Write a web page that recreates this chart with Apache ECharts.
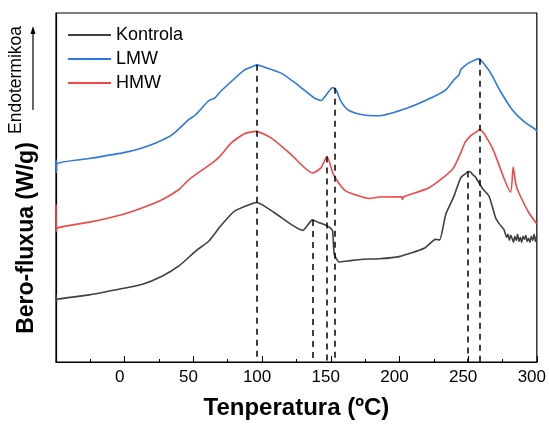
<!DOCTYPE html>
<html>
<head>
<meta charset="utf-8">
<script src="https://cdn.jsdelivr.net/npm/echarts@6/dist/echarts.min.js"></script>
<style>html,body{margin:0;padding:0;background:#fff}#c{width:549px;height:425px}</style>
</head>
<body>
<div id="c"></div>
<script>
// Temperatures (ºC) and heat flux (arbitrary, stacked offsets)
var tempKontrola = [-50, -49.7, -49.2, -25.8, -1.6, 13.0, 27.5, 39.5, 51.7, 61.3, 69.8, 80.0, 94.5, 96.0, 109.0, 121.2, 129.6, 136.8, 141.0, 146.6, 150.2, 151.4, 152.6, 156.2, 162.3, 173.2, 185.3, 199.8, 218.0, 226.4, 229.2, 233.7, 239.7, 244.6, 248.2, 250.0, 251.9, 253.2, 255.0, 257.9, 261.0, 265.2, 270.0, 273.0, 276.0,
  277, 278, 279, 280, 281, 282, 283, 284, 285, 286, 287, 288, 289, 290, 291, 292, 293, 294, 295, 296, 297, 298, 299, 300];
var fluxKontrola = [6.8, 6.15, 6.3, 6.73, 7.37, 7.8, 8.63, 9.63, 11.13, 12.13, 13.63, 15.13, 15.97, 16.0, 14.97, 13.8, 13.2, 14.25, 14.0, 13.7, 13.37, 13.1, 10.8, 10.03, 10.13, 10.3, 10.35, 10.57, 11.4, 12.3, 12.25, 14.8, 16.63, 18.47, 18.9, 19.1, 19.05, 18.8, 18.6, 17.97, 17.3, 16.63, 14.47, 13.8, 13.3,
  12.9, 12.5, 12.8, 12.2, 12.7, 12.4, 12.0, 12.6, 12.2, 12.8, 12.1, 12.5, 12.0, 12.6, 12.3, 12.7, 12.1, 12.4, 12.0, 12.6, 12.2, 12.8, 12.1, 12.7];

var tempLMW = [-50, -49.7, -49.2, -26.0, -1.6, 10.3, 22.6, 34.7, 46.6, 51.7, 61.1, 65.5, 69.8, 77.6, 87.2, 94.5, 96.0, 101.8, 113.9, 125.9, 138.1, 142.9, 147.7, 151.4, 153.8, 157.5, 162.3, 169.5, 180.4, 185.3, 205.8, 222.8, 233.7, 239.7, 243.4, 244.6, 249.4, 253.5, 257.2, 258.6, 261.5, 266.4, 273.6, 282.1, 290.6, 299.1, 300];
var fluxLMW = [20.3, 19.0, 19.9, 20.4, 20.97, 21.37, 21.97, 22.8, 24.3, 24.8, 26.2, 26.47, 27.13, 28.13, 29.3, 29.7, 29.8, 29.57, 28.97, 27.8, 26.47, 26.23, 26.97, 27.53, 27.3, 26.13, 25.3, 24.9, 24.7, 24.7, 25.47, 26.47, 27.3, 28.3, 28.8, 29.3, 29.9, 30.2, 30.4, 30.35, 29.9, 28.97, 27.13, 25.3, 24.13, 23.3, 23.1];

var tempHMW = [-50, -49.7, -49.2, -25.8, -1.6, 13.0, 27.5, 39.5, 46.8, 63.8, 69.8, 77.6, 87.2, 95.7, 106.6, 121.2, 136.8, 142.9, 147.3, 151.4, 152.6, 157.5, 161.1, 167.1, 178.0, 185.3, 201.5, 202.2, 203.0, 221.6, 238.5, 244.6, 247.7, 251.9, 255.0, 258.6, 267.6, 280.9, 282.8, 284.8, 286.9, 294.2, 299.8];
var fluxHMW = [15.8, 13.1, 13.45, 14.03, 14.8, 15.47, 16.3, 17.3, 18.3, 19.97, 20.7, 21.97, 22.9, 23.13, 22.47, 20.8, 18.95, 19.47, 20.6, 18.97, 18.63, 17.63, 17.13, 16.8, 16.4, 16.55, 16.57, 16.3, 16.57, 17.47, 19.3, 20.97, 22.0, 22.7, 23.0, 23.3, 21.47, 17.05, 19.55, 17.8, 16.97, 14.97, 13.9];

// Peak marker (dashed drop lines): temperature and top of line
var dropTemps = [96.0, 137.2, 146.9, 152.6, 249.9, 258.6];
var dropTops = [29.8, 14.25, 20.6, 27.5, 19.1, 30.4];

var seriesNames = ['Kontrola', 'LMW', 'HMW'];
var seriesColors = ['#404040', '#2a78e0', '#f04848'];
var xTicks = [0, 50, 100, 150, 200, 250, 300];

function zip(a, b) { return a.map(function (v, i) { return [v, b[i]]; }); }

var chart = echarts.init(document.getElementById('c'), null, { renderer: 'canvas' });
var lines = [[tempKontrola, fluxKontrola], [tempLMW, fluxLMW], [tempHMW, fluxHMW]];
var series = lines.map(function (p, i) {
  return {
    name: seriesNames[i], type: 'line', data: zip(p[0], p[1]),
    showSymbol: false, symbol: 'none', smooth: 0.2,
    lineStyle: { color: seriesColors[i], width: 1.6 },
    itemStyle: { color: seriesColors[i] }, z: 3
  };
});
series.push({
  name: 'drops', type: 'line', data: [], silent: true,
  markLine: {
    silent: true, symbol: ['none', 'none'], animation: false,
    label: { show: false },
    lineStyle: { color: '#000', type: [6, 5], width: 1.5 },
    emphasis: { disabled: true },
    data: dropTemps.map(function (t, i) { return [{ coord: [t, dropTops[i]] }, { coord: [t, 0] }]; })
  }
});

chart.setOption({
  animation: false,
  backgroundColor: '#fff',
  grid: { left: 56, right: 11, top: 13, bottom: 62, show: true, borderColor: '#000', borderWidth: 1.2, backgroundColor: 'transparent' },
  legend: {
    data: seriesNames, orient: 'vertical', left: 68, top: 26, padding: 0,
    icon: 'rect', itemWidth: 43, itemHeight: 2, itemGap: 6,
    textStyle: { fontFamily: 'Liberation Sans, Arial', fontSize: 18, color: '#000', lineHeight: 18 }
  },
  xAxis: {
    type: 'value', min: -50, max: 300, interval: 50,
    name: 'Tenperatura (ºC)', nameLocation: 'middle', nameGap: 34,
    nameTextStyle: { fontFamily: 'Liberation Sans, Arial', fontSize: 24, fontWeight: 'bold', color: '#000' },
    axisLine: { onZero: false, lineStyle: { color: '#000', width: 1.2 } },
    axisTick: { inside: true, length: 6, lineStyle: { color: '#000' } },
    minorTick: { show: true, splitNumber: 2, length: 3, lineStyle: { color: '#000' } },
    splitLine: { show: false },
    axisLabel: {
      fontFamily: 'Liberation Sans, Arial', fontSize: 17, color: '#000', margin: 7,
      padding: [0, 10, 0, 0],
      formatter: function (v) { return xTicks.indexOf(v) >= 0 ? String(v) : ''; }
    }
  },
  yAxis: {
    type: 'value', min: 0, max: 35,
    axisLine: { show: true, onZero: false, lineStyle: { color: '#000', width: 1.2 } },
    axisTick: { show: false }, axisLabel: { show: false }, splitLine: { show: false }
  },
  graphic: [
    { type: 'text', x: 27, y: 238, rotation: Math.PI / 2,
      style: { text: 'Bero-fluxua (W/g)', fontFamily: 'Liberation Sans, Arial', fontSize: 23, fontWeight: 'bold', fill: '#000', align: 'center', verticalAlign: 'middle' } },
    { type: 'text', x: 16, y: 80, rotation: Math.PI / 2,
      style: { text: 'Endotermikoa', fontFamily: 'Liberation Sans, Arial', fontSize: 17.5, fill: '#000', align: 'center', verticalAlign: 'middle' } },
    { type: 'line', shape: { x1: 33, y1: 110, x2: 33, y2: 32 }, style: { stroke: '#000', lineWidth: 1.2 } },
    { type: 'polygon', shape: { points: [[33, 26], [30.5, 34], [35.5, 34]] }, style: { fill: '#000' } }
  ],
  series: series
});
</script>
</body>
</html>
